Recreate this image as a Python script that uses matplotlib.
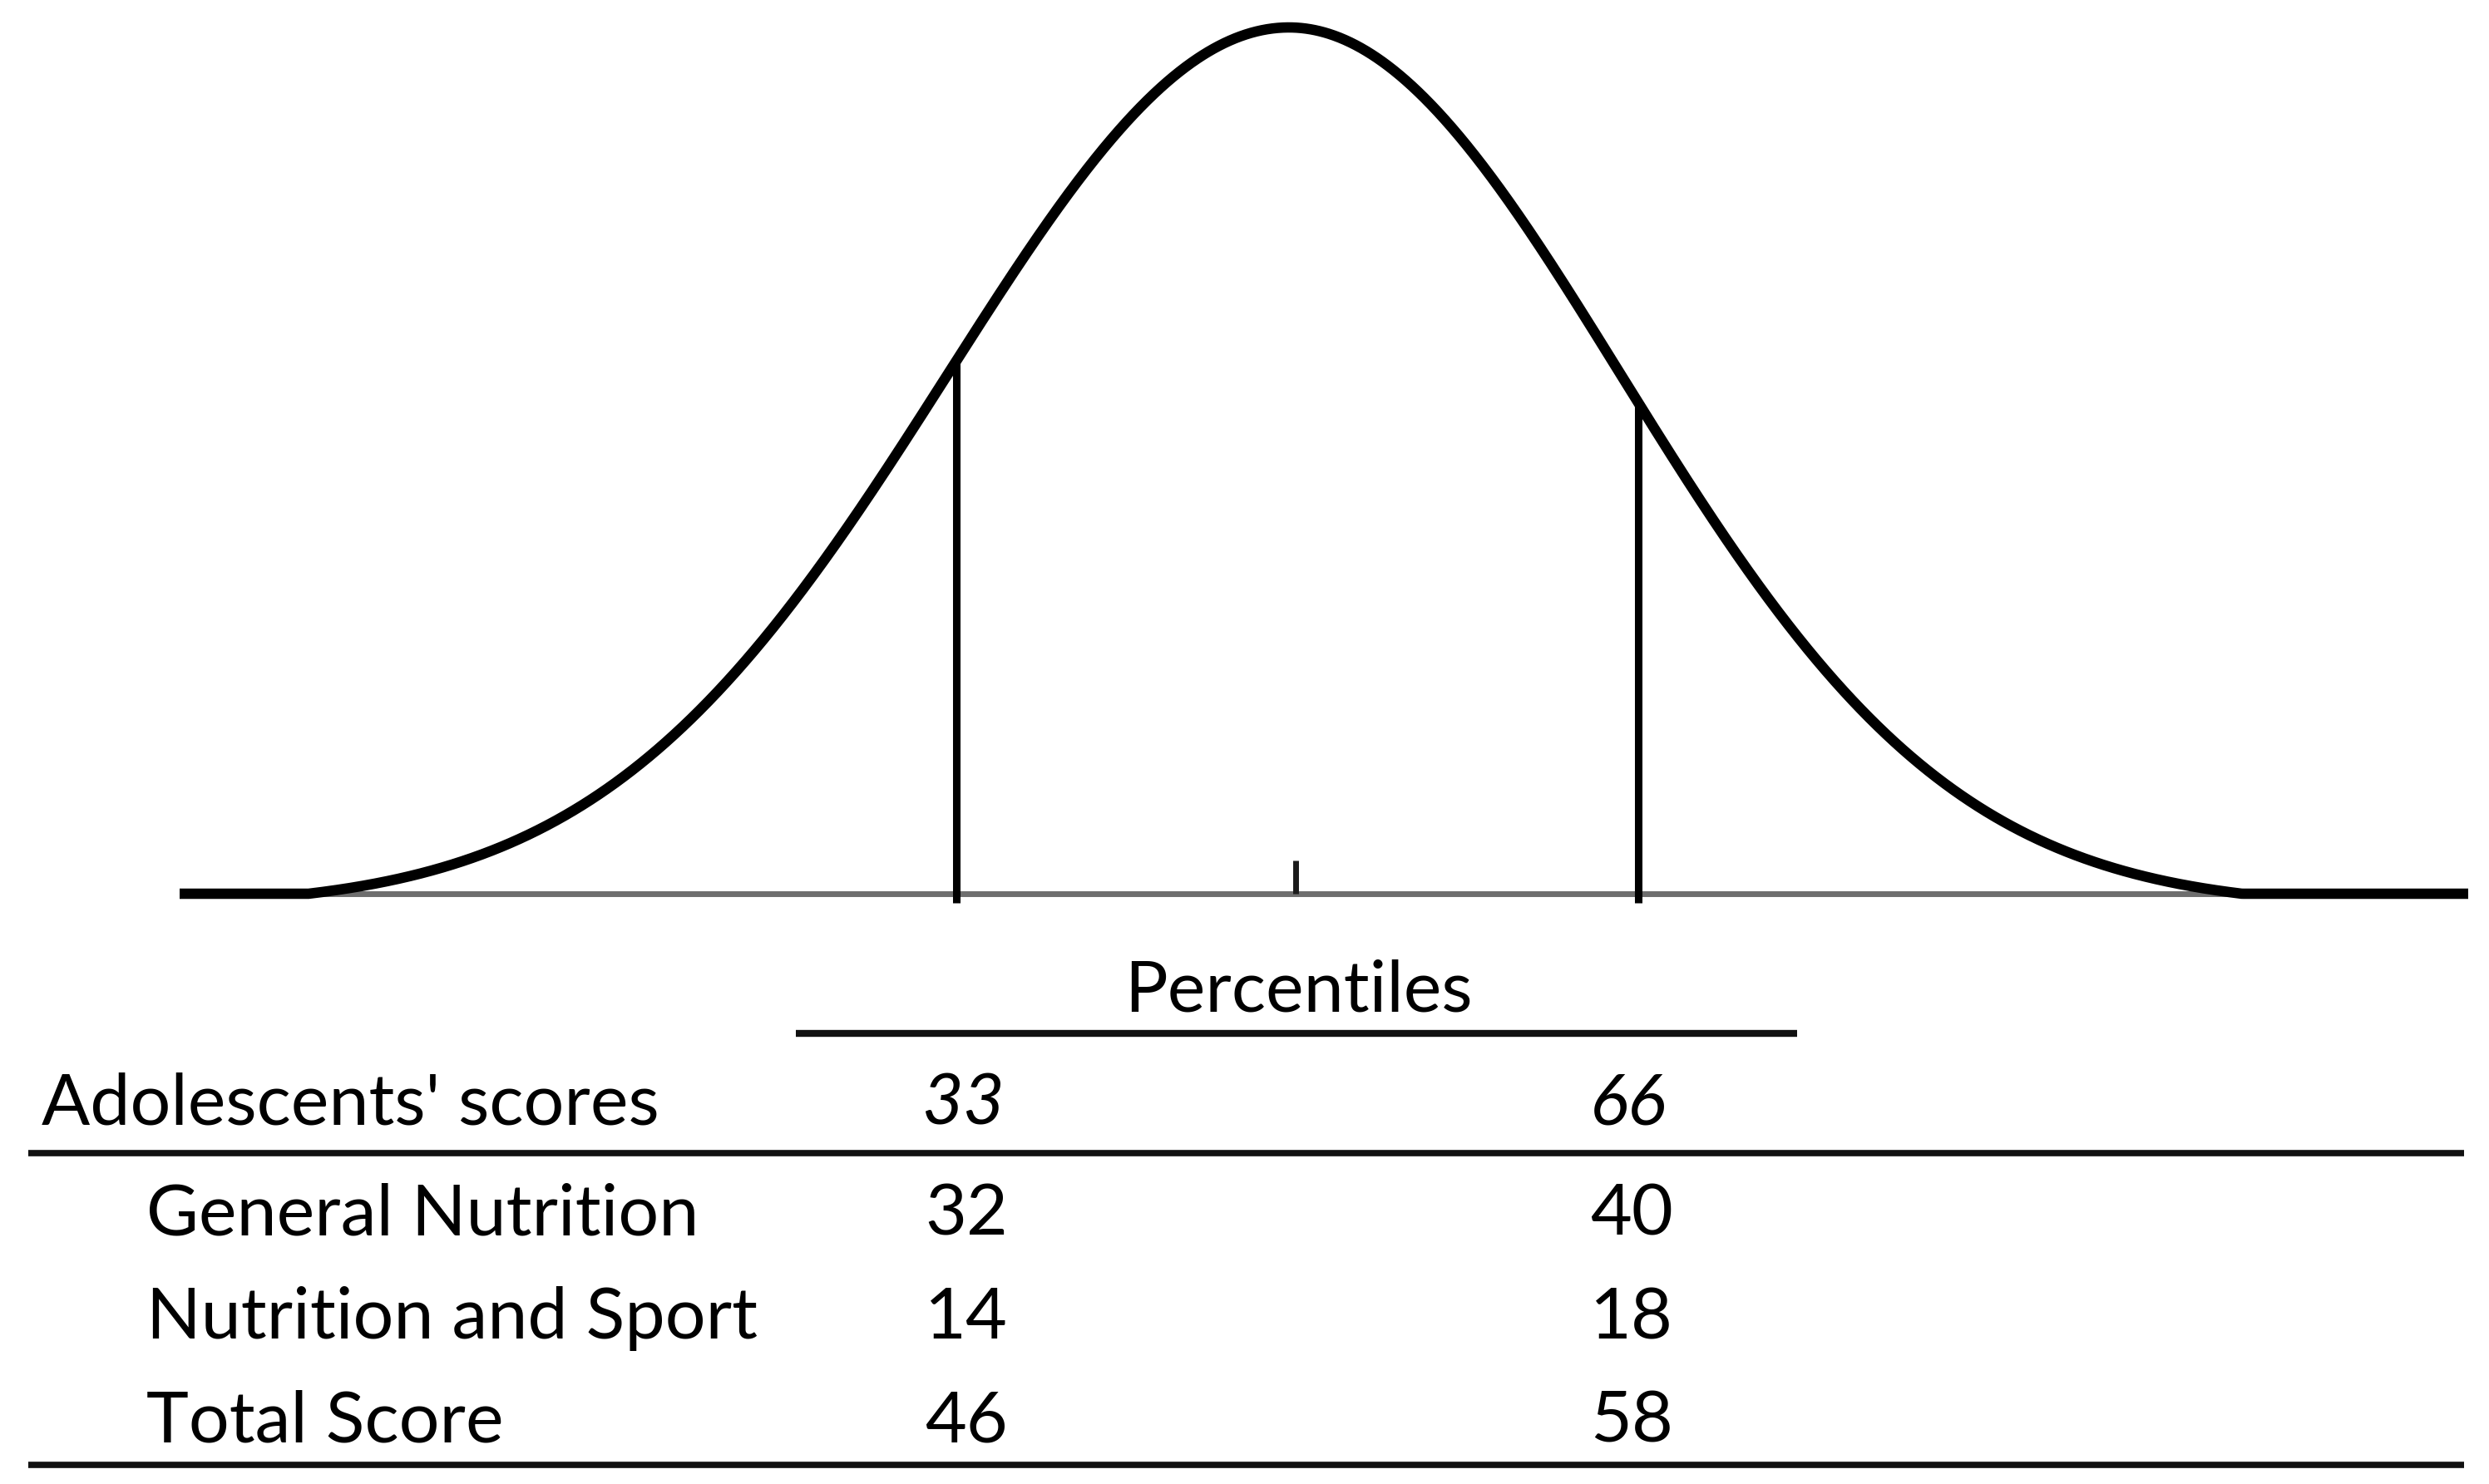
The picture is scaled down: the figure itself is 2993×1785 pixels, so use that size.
import numpy as np
import matplotlib
matplotlib.use("Agg")
import matplotlib.pyplot as plt

# ---- data ----
percentiles = ["33", "66"]
row_labels = ["General Nutrition", "Nutrition and Sport", "Total Score"]
p33_values = ["32", "14", "46"]
p66_values = ["40", "18", "58"]
header_label = "Adolescents' scores"
group_label = "Percentiles"
sigma_left, sigma_right = 1.0, 0.972   # spread of the curve on each side of the mean
tail_cut = 0.016                       # level at which the tails merge into the axis
cut_z = [-0.975, 1.024]                # positions of the percentile cut lines
x_range = [-3.254, 3.459]              # horizontal extent of the axis line

W, H = 2993, 1785
DPI = 100
fig = plt.figure(figsize=(W / DPI, H / DPI), dpi=DPI)
plt.rcParams['font.family'] = ['Lato', 'DejaVu Sans']

# ---- curve axes (placed in pixel units of the figure) ----
y0_px, y1_px = 1075.0, 33.0            # baseline and peak rows
ylo, yhi = -0.05, 1.02
unit = y0_px - y1_px
bot_px = y0_px - ylo * unit
top_px = y1_px - (yhi - 1) * unit
left_px, right_px = 216.0, 2968.0
ax = fig.add_axes([left_px / W, 1 - bot_px / H, (right_px - left_px) / W, (bot_px - top_px) / H])
ax.set_xlim(x_range[0], x_range[1])
ax.set_ylim(ylo, yhi)
ax.axis("off")

def curve(x):
    s = np.where(x < 0, sigma_left, sigma_right)
    g = np.exp(-0.5 * (x / s) ** 2)
    return np.clip((g - tail_cut) / (1 - tail_cut), 0, None)

z = np.linspace(x_range[0], x_range[1], 3000)
ax.plot(x_range, [0, 0], color="#6e6e6e", lw=5.0, solid_capstyle="butt", zorder=1)
ax.plot(z, curve(z), color="black", lw=9.0, zorder=3, solid_capstyle="butt")
for c in cut_z:
    ax.plot([c, c], [-0.011, float(curve(np.array([c]))[0])], color="black", lw=6.5,
            zorder=2, solid_capstyle="butt")
ax.plot([0.02, 0.02], [0, 0.038], color="#1a1a1a", lw=5.0, zorder=2, solid_capstyle="butt")

# ---- table overlay in pixel coordinates ----
tx = fig.add_axes([0, 0, 1, 1])
tx.set_xlim(0, W)
tx.set_ylim(H, 0)
tx.axis("off")

fs = 62
col_x = [1162, 1962]
tx.text(1561, 1216, group_label, fontsize=fs, ha="center", va="baseline")
tx.plot([957, 2161], [1243, 1243], color="#111111", lw=6.0, solid_capstyle="butt")
tx.text(50, 1352, header_label, fontsize=fs, ha="left", va="baseline")
for x, p in zip(col_x, percentiles):
    tx.text(x - 4, 1352, p, fontsize=fs, ha="center", va="baseline", style="italic")
tx.plot([34, 2963], [1387, 1387], color="#111111", lw=5.5, solid_capstyle="butt")
row_y = [1485, 1610, 1734]
for y, lab, a, b in zip(row_y, row_labels, p33_values, p66_values):
    tx.text(176, y, lab, fontsize=fs, ha="left", va="baseline")
    tx.text(col_x[0], y, a, fontsize=fs, ha="center", va="baseline")
    tx.text(col_x[1], y, b, fontsize=fs, ha="center", va="baseline")
tx.plot([34, 2963], [1762, 1762], color="#111111", lw=5.5, solid_capstyle="butt")

fig.savefig("out.png", dpi=DPI, facecolor="white")
